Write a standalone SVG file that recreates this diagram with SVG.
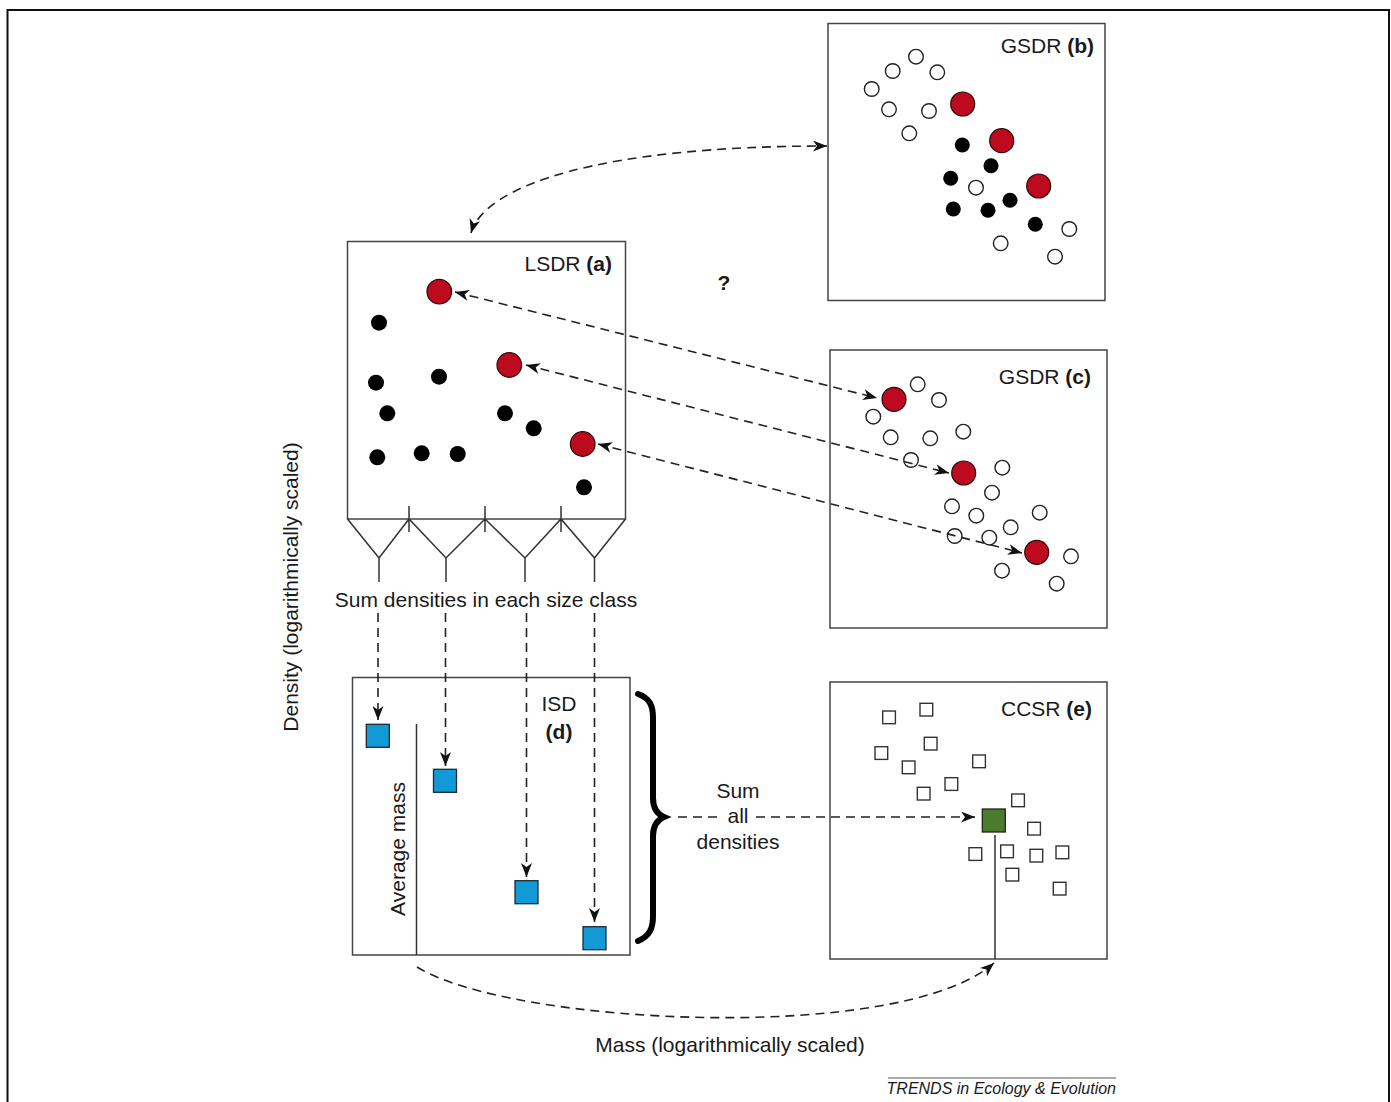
<svg xmlns="http://www.w3.org/2000/svg" width="1391" height="1102" viewBox="0 0 1391 1102">
<style>
text{font-family:"Liberation Sans",Arial,sans-serif;fill:#1a1a1a;font-size:21px}
.b{font-weight:bold}
.box{fill:#fff;stroke:#444;stroke-width:1.5}
.ln{fill:none;stroke:#333;stroke-width:1.5}
.oc{fill:#fff;stroke:#222;stroke-width:1.4}
.bc{fill:#000}
.rc{fill:#bd0a1f;stroke:#2a0a0a;stroke-width:1.2}
.sq{fill:#fff;stroke:#333;stroke-width:1.4}
.bl{fill:#129ad7;stroke:#1c2a33;stroke-width:1.3}
.dash{fill:none;stroke:#222;stroke-width:1.6;stroke-dasharray:9 6}
</style>
<defs>
<marker id="ah" viewBox="0 0 14 11" refX="14" refY="5.5" markerWidth="14" markerHeight="11" orient="auto-start-reverse" markerUnits="userSpaceOnUse">
<path d="M0,0 L14,5.5 L0,11 L4,5.5 Z" fill="#111"/>
</marker>
</defs>
<rect width="1391" height="1102" fill="#fff"/>
<path d="M7.5,1102 V10 H1389 V1102" fill="none" stroke="#111" stroke-width="2"/>

<g id="panel-b">
<rect class="box" x="828" y="23.5" width="277" height="277"/>
<text x="1094" y="53" text-anchor="end">GSDR <tspan class="b">(b)</tspan></text>
<g class="oc">
<circle cx="916" cy="56.7" r="7.3"/><circle cx="892.7" cy="71" r="7.3"/><circle cx="937.3" cy="72.3" r="7.3"/>
<circle cx="871.7" cy="89" r="7.3"/><circle cx="889" cy="109.3" r="7.3"/><circle cx="929" cy="111" r="7.3"/>
<circle cx="909.3" cy="133.3" r="7.3"/><circle cx="976" cy="187.7" r="7.3"/><circle cx="1069.3" cy="229" r="7.3"/>
<circle cx="1000.7" cy="243.3" r="7.3"/><circle cx="1055" cy="256.7" r="7.3"/>
</g>
<g class="bc">
<circle cx="962.3" cy="145" r="7.5"/><circle cx="991" cy="165.7" r="7.5"/><circle cx="950.7" cy="178.3" r="7.5"/>
<circle cx="1010" cy="200.3" r="7.5"/><circle cx="953.3" cy="209" r="7.5"/><circle cx="988" cy="210.3" r="7.5"/>
<circle cx="1035.3" cy="224.3" r="7.5"/>
</g>
<g class="rc">
<circle cx="962.7" cy="104" r="12"/><circle cx="1001.7" cy="140.7" r="12"/><circle cx="1038.7" cy="186" r="12"/>
</g>
</g>

<g id="panel-a">
<rect class="box" x="347.5" y="241.5" width="278" height="277.5"/>
<path class="ln" d="M347.5,519 L379,558 L409,519 L446,558 L485,519 L525,558 L561,519 L594.5,558 L625.5,519 M409,506 V532 M485,506 V532 M561,506 V532 M379,558 V582 M446,558 V582 M525,558 V582 M594.5,558 V582"/>
<text x="612" y="271" text-anchor="end">LSDR <tspan class="b">(a)</tspan></text>
<g class="bc">
<circle cx="379" cy="322.7" r="8"/><circle cx="376" cy="382.7" r="8"/><circle cx="439" cy="376.7" r="8"/>
<circle cx="387.3" cy="413.3" r="8"/><circle cx="505" cy="413.3" r="8"/><circle cx="533.7" cy="428.3" r="8"/>
<circle cx="377.3" cy="457.3" r="8"/><circle cx="421.7" cy="453.3" r="8"/><circle cx="457.7" cy="454" r="8"/>
<circle cx="584" cy="487.3" r="8"/>
</g>
<g class="rc">
<circle cx="439.3" cy="291.7" r="12.3"/><circle cx="509.3" cy="365" r="12.3"/><circle cx="582.7" cy="444" r="12.3"/>
</g>
</g>

<g id="panel-c">
<rect class="box" x="830" y="350" width="277" height="278"/>
<text x="1091" y="384" text-anchor="end">GSDR <tspan class="b">(c)</tspan></text>
<g class="oc">
<circle cx="917.7" cy="384.3" r="7.3"/><circle cx="939" cy="400" r="7.3"/><circle cx="873.3" cy="416.7" r="7.3"/>
<circle cx="890.7" cy="437.3" r="7.3"/><circle cx="930.3" cy="438.3" r="7.3"/><circle cx="963.3" cy="431.7" r="7.3"/>
<circle cx="911" cy="460" r="7.3"/><circle cx="1002.3" cy="467.7" r="7.3"/><circle cx="992" cy="492.7" r="7.3"/>
<circle cx="952" cy="506.3" r="7.3"/><circle cx="976.3" cy="515.7" r="7.3"/><circle cx="1039.7" cy="512.7" r="7.3"/>
<circle cx="1010.7" cy="527.3" r="7.3"/><circle cx="954.7" cy="536" r="7.3"/><circle cx="989.3" cy="537.7" r="7.3"/>
<circle cx="1071" cy="556.3" r="7.3"/><circle cx="1002" cy="570.7" r="7.3"/><circle cx="1056.7" cy="583.7" r="7.3"/>
</g>
<g class="rc">
<circle cx="894" cy="399.3" r="12"/><circle cx="963.7" cy="473" r="12"/><circle cx="1036.7" cy="552.3" r="12"/>
</g>
</g>

<g id="panel-d">
<rect class="box" x="352.5" y="677.5" width="277.5" height="277.5"/>
<path class="ln" d="M416.5,724 V955"/>
<text x="559" y="711" text-anchor="middle">ISD</text>
<text x="559" y="739" text-anchor="middle" class="b">(d)</text>
<text transform="translate(405,849) rotate(-90)" text-anchor="middle">Average mass</text>
<rect class="bl" x="366.3" y="724.3" width="23" height="23"/>
<rect class="bl" x="433.5" y="769.3" width="23" height="23"/>
<rect class="bl" x="515" y="880.7" width="23" height="23"/>
<rect class="bl" x="583" y="926.7" width="23" height="23"/>
</g>

<g id="panel-e">
<rect class="box" x="830" y="682" width="277" height="277"/>
<text x="1092" y="716" text-anchor="end">CCSR <tspan class="b">(e)</tspan></text>
<g class="sq">
<rect x="882.7" y="711" width="12.7" height="12.7"/><rect x="920" y="703.3" width="12.7" height="12.7"/>
<rect x="924.3" y="737.3" width="12.7" height="12.7"/><rect x="875" y="746.7" width="12.7" height="12.7"/>
<rect x="902.3" y="761" width="12.7" height="12.7"/><rect x="972.7" y="755" width="12.7" height="12.7"/>
<rect x="945" y="777.7" width="12.7" height="12.7"/><rect x="917.3" y="787.3" width="12.7" height="12.7"/>
<rect x="1011.7" y="794" width="12.7" height="12.7"/><rect x="1027.7" y="822.3" width="12.7" height="12.7"/>
<rect x="969" y="847.7" width="12.7" height="12.7"/><rect x="1000.7" y="845" width="12.7" height="12.7"/>
<rect x="1030" y="849.3" width="12.7" height="12.7"/><rect x="1056" y="846" width="12.7" height="12.7"/>
<rect x="1006" y="868.3" width="12.7" height="12.7"/><rect x="1053.3" y="882.3" width="12.7" height="12.7"/>
</g>
<rect x="982.3" y="809" width="23" height="23" fill="#4b7b2c" stroke="#1d2a12" stroke-width="1.3"/>
<path class="ln" d="M995,835 V959"/>
</g>

<g id="connectors">
<path class="dash" d="M471,233 C485,185 600,146 827,146" marker-start="url(#ah)" marker-end="url(#ah)"/>
<path class="dash" d="M455,292 L877,398" marker-start="url(#ah)" marker-end="url(#ah)"/>
<path class="dash" d="M526,365 L949,473" marker-start="url(#ah)" marker-end="url(#ah)"/>
<path class="dash" d="M598,444 L1022,553" marker-start="url(#ah)" marker-end="url(#ah)"/>
<path class="dash" d="M378,613 V720" marker-end="url(#ah)"/>
<path class="dash" d="M445.5,613 V766" marker-end="url(#ah)"/>
<path class="dash" d="M526.5,613 V877" marker-end="url(#ah)"/>
<path class="dash" d="M594.5,613 V922" marker-end="url(#ah)"/>
<path class="dash" d="M678,817 H720"/>
<path class="dash" d="M756,817 H975" marker-end="url(#ah)"/>
<path class="dash" d="M417,967 C510,1025 900,1045 994,963" marker-end="url(#ah)"/>
<path d="M638,694 C650,698 653,706 653,718 L653,798 C653,808 657,814 664,817 C657,820 653,826 653,836 L653,916 C653,928 650,936 638,941" fill="none" stroke="#000" stroke-width="6" stroke-linecap="round"/>
</g>

<g id="labels">
<text x="724" y="290" text-anchor="middle" class="b">?</text>
<text x="486" y="607" text-anchor="middle">Sum densities in each size class</text>
<text x="738" y="798" text-anchor="middle">Sum</text>
<text x="738" y="823" text-anchor="middle">all</text>
<text x="738" y="849" text-anchor="middle">densities</text>
<text transform="translate(298,587) rotate(-90)" text-anchor="middle">Density (logarithmically scaled)</text>
<text x="730" y="1052" text-anchor="middle">Mass (logarithmically scaled)</text>
<path d="M888,1078 H1116" stroke="#555" stroke-width="1"/>
<text x="1116" y="1094" text-anchor="end" font-style="italic" style="font-size:16px">TRENDS in Ecology &amp; Evolution</text>
</g>
</svg>
